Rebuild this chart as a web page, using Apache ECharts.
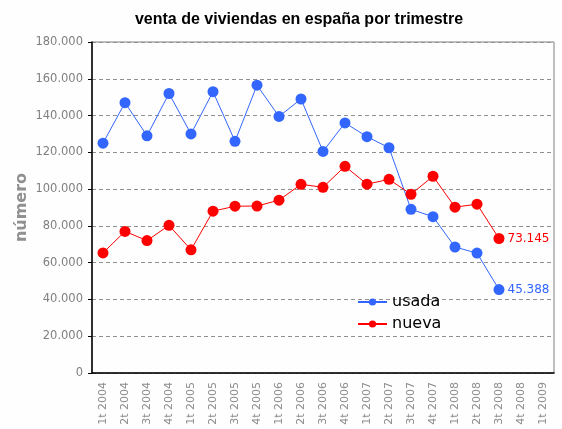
<!DOCTYPE html>
<html>
<head>
<meta charset="utf-8">
<script src="https://cdn.jsdelivr.net/npm/echarts@6/dist/echarts.min.js"></script>
<style>
  html, body { margin: 0; padding: 0; background: #fdfefd; }
  #chart { width: 562px; height: 429px; }
</style>
</head>
<body>
<div id="chart"></div>
<script>
// trimestres
var categorias = ['1t 2004','2t 2004','3t 2004','4t 2004','1t 2005','2t 2005','3t 2005','4t 2005',
  '1t 2006','2t 2006','3t 2006','4t 2006','1t 2007','2t 2007','3t 2007','4t 2007',
  '1t 2008','2t 2008','3t 2008','4t 2008','1t 2009'];

var usada = [125000,147000,129000,152000,130000,153000,126000,156500,
  139500,149000,120500,136000,128500,122500,89000,85000,
  68500,65200,45388];

var nueva = [65300,77000,72000,80300,67000,88000,90700,90800,
  94000,102600,101000,112400,102700,105300,97200,107000,
  90200,91800,73145];

var fmt = function (v) {
    return String(Math.round(v)).replace(/\B(?=(\d{3})+(?!\d))/g, '.');
};

// ultimo punto con etiqueta
var conEtiqueta = function (arr, color) {
    return arr.map(function (v, i) {
        if (i !== arr.length - 1) return v;
        return {
            value: v,
            label: {
                show: true, position: 'right', distance: 3,
                color: color, fontSize: 12, fontFamily: 'DejaVu Sans',
                formatter: function (p) { return fmt(p.value); }
            }
        };
    });
};

var chart = echarts.init(document.getElementById('chart'));
var option = {
    backgroundColor: '#fdfefd',
    animation: false,
    title: {
        text: 'venta de viviendas en españa por trimestre',
        left: 294, top: 7, textAlign: 'center',
        textStyle: { fontFamily: 'Liberation Sans', fontWeight: 'bold', fontSize: 16, color: '#000' }
    },
    grid: {
        left: 92, right: 8, top: 42, bottom: 56,
        show: true, borderColor: '#808080', borderWidth: 1, backgroundColor: 'transparent'
    },
    legend: {
        orient: 'vertical', left: 352, top: 289,
        itemWidth: 29, itemHeight: 9, itemGap: 6,
        textStyle: { fontFamily: 'DejaVu Sans', fontSize: 16, color: '#000' },
        data: ['usada', 'nueva']
    },
    xAxis: {
        type: 'category',
        data: categorias,
        boundaryGap: true,
        axisLine: { lineStyle: { color: '#000', width: 1.5 } },
        axisTick: { interval: 0, length: 4, lineStyle: { color: '#000' } },
        axisLabel: {
            interval: 0, rotate: 90, margin: 9,
            color: '#8c8c8c', fontSize: 11, fontFamily: 'DejaVu Sans'
        }
    },
    yAxis: {
        type: 'value',
        min: 0, max: 180000, interval: 20000,
        name: 'número',
        nameLocation: 'middle', nameGap: 62,
        nameMoveOverlap: false,
        nameTextStyle: { color: '#909090', fontSize: 16, fontWeight: 'bold', fontFamily: 'DejaVu Sans' },
        axisLine: { show: true, lineStyle: { color: '#000', width: 1.5 } },
        axisTick: { show: true, length: 4, lineStyle: { color: '#000' } },
        axisLabel: {
            color: '#808080', fontSize: 11.5, fontFamily: 'DejaVu Sans', margin: 9,
            formatter: fmt
        },
        splitLine: { lineStyle: { color: '#909090', type: [4, 3], width: 1 } }
    },
    series: [{
        name: 'usada',
        type: 'line',
        data: conEtiqueta(usada, '#3366ff'),
        symbol: 'circle',
        symbolSize: 11,
        color: '#3366ff',
        lineStyle: { width: 1, color: '#3366ff' }
    }, {
        name: 'nueva',
        type: 'line',
        data: conEtiqueta(nueva, '#ff0000'),
        symbol: 'circle',
        symbolSize: 11,
        color: '#ff0000',
        lineStyle: { width: 1, color: '#ff0000' }
    }]
};
chart.setOption(option);
</script>
</body>
</html>
